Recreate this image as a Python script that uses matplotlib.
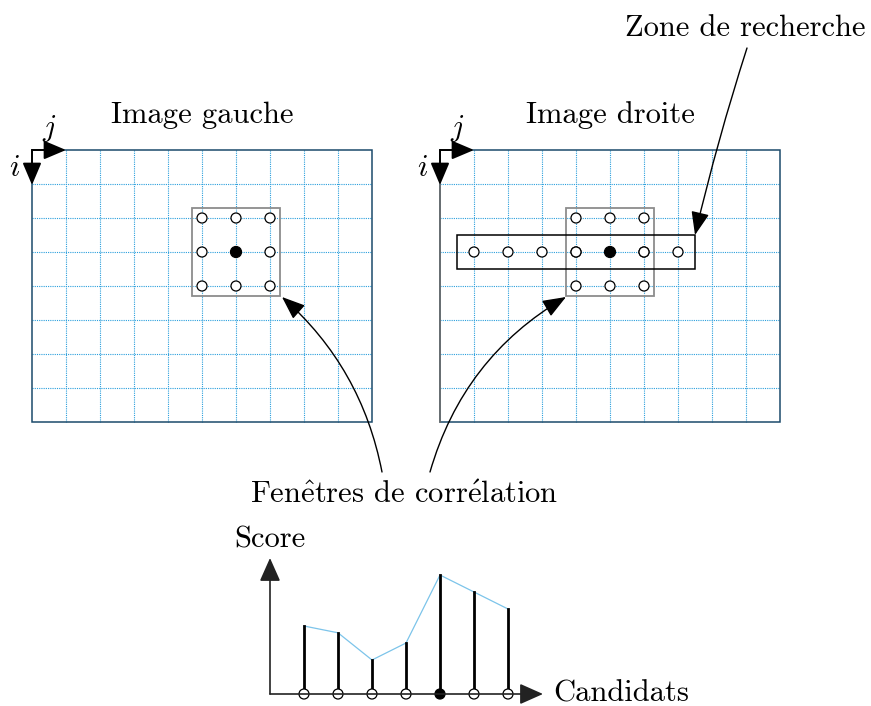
import numpy as np
import matplotlib.pyplot as plt
from matplotlib.patches import Circle, Rectangle, FancyArrowPatch

plt.rcParams['font.family'] = ['cmr10', 'DejaVu Serif']
plt.rcParams['mathtext.fontset'] = 'cm'
plt.rcParams['axes.unicode_minus'] = False

# --- data ---
n_cols, n_rows = 10, 8               # grid cells per image
titles = ['Image gauche', 'Image droite']
win_centers = [(6, 3), (5, 3)]       # (col, row) of the correlation window centre
search_offsets = [-4, -3, -2, -1, 0, 1, 2]   # candidate columns relative to centre
scores = [2.0, 1.8, 1.0, 1.5, 3.5, 3.0, 2.5]  # in grid units
best = 4

# --- layout (pixels) ---
cell = 34
img_x0 = [32, 440]
img_y0 = 150
grid_c = '#2a9fdc'
frame_c = '#1b4a6b'

fig = plt.figure(figsize=(8.71, 7.06), dpi=100)
ax = fig.add_axes([0, 0, 1, 1])
ax.set_xlim(0, 871)
ax.set_ylim(706, 0)
ax.axis('off')


def arrow(p0, p1, rad=0.0, hl=0.7, hw=0.3, ms=16, lw=1.0, color='black'):
    a = FancyArrowPatch(p0, p1, connectionstyle=f'arc3,rad={rad}',
                        arrowstyle=f'-|>,head_length={hl},head_width={hw}',
                        mutation_scale=ms, lw=lw, color=color,
                        shrinkA=0, shrinkB=0, zorder=6)
    ax.add_patch(a)


def dot(x, y, filled=False, r=5):
    ax.add_patch(Circle((x, y), r, facecolor='black' if filled else 'white',
                        edgecolor='black', lw=0.9, zorder=5))


for k, x0 in enumerate(img_x0):
    w, h = n_cols * cell, n_rows * cell
    for c in range(1, n_cols):
        ax.plot([x0 + c * cell] * 2, [img_y0, img_y0 + h], color=grid_c,
                lw=0.8, ls=(0, (1, 1)), zorder=1)
    for r in range(1, n_rows):
        ax.plot([x0, x0 + w], [img_y0 + r * cell] * 2, color=grid_c,
                lw=0.8, ls=(0, (1, 1)), zorder=1)
    ax.add_patch(Rectangle((x0, img_y0), w, h, fill=False, ec=frame_c, lw=1.1, zorder=2))
    if k == 1:
        ax.plot([x0, x0], [img_y0, img_y0 + h], color='#6e6e6e', lw=1.2, zorder=2)
    ax.text(x0 + 170, 115, titles[k], fontsize=22, ha='center', va='center')
    # i / j axes
    arrow((x0, img_y0), (x0 + cell, img_y0), hl=0.85, hw=0.36, ms=16, lw=1.4)
    arrow((x0, img_y0), (x0, img_y0 + cell + 1), hl=0.85, hw=0.36, ms=16, lw=1.4)
    ax.text(x0 + 17, 128, '$j$', fontsize=22, ha='center', va='center')
    ax.text(x0 - 17, 168, '$i$', fontsize=22, ha='center', va='center')

    cx = x0 + win_centers[k][0] * cell
    cy = img_y0 + win_centers[k][1] * cell
    # correlation window
    ax.add_patch(Rectangle((cx - cell - 10, cy - cell - 10), 2 * cell + 20, 2 * cell + 20,
                           fill=False, ec='#8c8c8c', lw=1.3, zorder=3))
    for dr in (-1, 0, 1):
        for dc in (-1, 0, 1):
            if dr == 0 and dc == 0:
                dot(cx, cy, filled=True, r=5.5)
            else:
                dot(cx + dc * cell, cy + dr * cell)
    if k == 1:
        for o in search_offsets:
            if o != 0:
                dot(cx + o * cell, cy)
        xa = cx + search_offsets[0] * cell - cell / 2
        xb = cx + search_offsets[-1] * cell + cell / 2
        ax.add_patch(Rectangle((xa, cy - cell / 2), xb - xa, cell,
                               fill=False, ec='black', lw=1.1, zorder=4))
        zone_corner = (xb, cy - cell / 2)

# labels and pointer arrows
ax.text(745, 28, 'Zone de recherche', fontsize=22, ha='center', va='center')
arrow((747, 48), zone_corner, rad=0.02, hl=0.9, hw=0.35, ms=16)
ax.text(404, 495, r'Fen$\mathrm{\hat{e}}$tres de corr$\mathrm{\acute{e}}$lation',
        fontsize=22, ha='center', va='center')
arrow((382, 472), (282, 297), rad=0.17, hl=0.9, hw=0.35, ms=16)
arrow((430, 472), (566, 297), rad=-0.2, hl=0.9, hw=0.35, ms=16)

# score plot
bx, by = 270, 694
xs = [bx + (i + 1) * cell for i in range(len(scores))]
tops = [by - s * cell for s in scores]
arrow((bx, by), (bx, 558), hl=0.9, hw=0.4, ms=16, lw=1.2, color='#222222')
arrow((bx, by), (543, by), hl=0.9, hw=0.4, ms=16, lw=1.2, color='#222222')
ax.plot(xs, tops, color='#7cc4ea', lw=0.9, zorder=3)
for i, (x, t) in enumerate(zip(xs, tops)):
    ax.plot([x, x], [by, t], color='black', lw=2.0, zorder=4)
    dot(x, by, filled=(i == best))
ax.text(270, 540, 'Score', fontsize=22, ha='center', va='center')
ax.text(553, 694, 'Candidats', fontsize=22, ha='left', va='center')

fig.savefig('out.png', dpi=100)
